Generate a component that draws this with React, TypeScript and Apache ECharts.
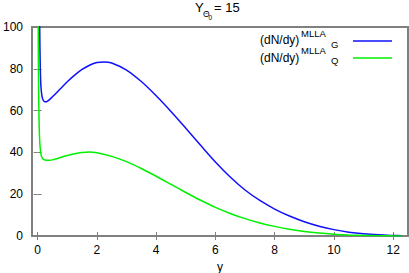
import React, { useEffect, useRef } from "react";
import * as echarts from "echarts";

const gluonX = [0.05, 0.07, 0.09, 0.11, 0.14, 0.18, 0.25, 0.35, 0.5, 0.75, 1.0, 1.25, 1.5, 1.75, 2.0, 2.25, 2.5, 3.0, 3.5, 4.0, 4.5, 5.0, 5.5, 6.0, 6.5, 7.0, 7.5, 8.0, 8.5, 9.0, 9.5, 10.0, 10.5, 11.0, 11.5, 12.0, 12.3];
const gluonY = [140, 100, 80, 72, 67.5, 65.2, 64.2, 64.7, 66.6, 70.2, 73.8, 77.0, 79.7, 81.7, 83.0, 83.3, 82.8, 79.4, 73.9, 67.1, 59.6, 51.6, 43.4, 35.4, 28.2, 22.0, 17.0, 12.9, 9.55, 6.85, 4.7, 3.05, 1.85, 1.05, 0.55, 0.25, 0.12];

const quarkX = [0.01, 0.02, 0.03, 0.05, 0.08, 0.12, 0.16, 0.2, 0.3, 0.4, 0.6, 0.8, 1.0, 1.25, 1.5, 1.75, 2.0, 2.5, 3.0, 3.5, 4.0, 4.5, 5.0, 5.5, 6.0, 6.5, 7.0, 7.5, 8.0, 8.5, 9.0, 9.5, 10.0, 10.5, 11.0, 11.5, 12.0, 12.3];
const quarkY = [150, 100, 75, 54, 43, 38.6, 37.3, 36.7, 36.25, 36.2, 36.8, 37.7, 38.5, 39.4, 40.0, 40.2, 39.8, 38.1, 35.6, 32.3, 28.6, 24.7, 20.8, 17.1, 13.7, 10.8, 8.3, 6.25, 4.6, 3.25, 2.15, 1.4, 0.88, 0.52, 0.29, 0.15, 0.06, 0.03];

const xTicks = [0, 2, 4, 6, 8, 10, 12];
const yTicks = [0, 20, 40, 60, 80, 100];
const xRange = [-0.19, 12.5];
const yRange = [0, 100];

const FONT = "Liberation Sans, Arial, Helvetica, sans-serif";
const AXIS_COLOR = "#808080";
const BLUE = "#1010ff";
const GREEN = "#00f000";

export default function App() {
  const ref = useRef<HTMLDivElement>(null);

  useEffect(() => {
    if (!ref.current) return;
    const chart = echarts.init(ref.current, undefined, { renderer: "svg" });

    const tickStyle = { show: true, inside: true, length: 4, lineStyle: { color: AXIS_COLOR, width: 1 } };

    const txt = (text: string, x: number, y: number, size: number) => ({
      type: "text",
      x,
      y,
      style: { text, fontSize: size, fontFamily: FONT, fill: "#000", verticalAlign: "middle", align: "left" },
    });

    chart.setOption({
      animation: false,
      grid: {
        left: 32,
        right: 1,
        top: 27,
        bottom: 37,
        containLabel: false,
        outerBoundsMode: "none",
        show: true,
        borderColor: AXIS_COLOR,
        borderWidth: 2,
        backgroundColor: "transparent",
      },
      xAxis: [
        {
          type: "value",
          min: xRange[0],
          max: xRange[1],
          name: "y",
          nameLocation: "middle",
          nameGap: 20,
          nameTextStyle: { fontSize: 12, fontFamily: FONT, color: "#000" },
          axisLine: { show: false },
          axisTick: { ...tickStyle, customValues: xTicks },
          axisLabel: { customValues: xTicks, fontSize: 12, fontFamily: FONT, color: "#000", margin: 8 },
          splitLine: { show: false },
        },
        {
          type: "value",
          position: "top",
          min: xRange[0],
          max: xRange[1],
          axisLine: { show: false },
          axisTick: { ...tickStyle, customValues: xTicks },
          axisLabel: { show: false, customValues: xTicks },
          splitLine: { show: false },
        },
      ],
      yAxis: [
        {
          type: "value",
          min: yRange[0],
          max: yRange[1],
          axisLine: { show: false },
          axisTick: { ...tickStyle, customValues: yTicks },
          axisLabel: { customValues: yTicks, fontSize: 12, fontFamily: FONT, color: "#000", margin: 9 },
          splitLine: { show: false },
        },
        {
          type: "value",
          position: "right",
          min: yRange[0],
          max: yRange[1],
          axisLine: { show: false },
          axisTick: { ...tickStyle, customValues: yTicks },
          axisLabel: { show: false, customValues: yTicks },
          splitLine: { show: false },
        },
      ],
      series: [
        {
          name: "gluon",
          type: "line",
          xAxisIndex: 0,
          yAxisIndex: 0,
          data: gluonX.map((x, i) => [x, gluonY[i]]),
          showSymbol: false,
          smooth: 0.3,
          clip: true,
          lineStyle: { color: BLUE, width: 1.5 },
        },
        {
          name: "quark",
          type: "line",
          xAxisIndex: 0,
          yAxisIndex: 0,
          data: quarkX.map((x, i) => [x, quarkY[i]]),
          showSymbol: false,
          smooth: 0.3,
          clip: true,
          lineStyle: { color: GREEN, width: 1.5 },
        },
      ],
      graphic: [
        txt("Y", 195, 7.5, 13),
        txt("Θ", 203, 14, 8.5),
        txt("0", 208.5, 17, 6.5),
        txt("= 15", 214, 7.5, 13),
        txt("(dN/dy)", 260, 40, 12),
        txt("MLLA", 301, 33, 9.5),
        txt("G", 331, 44, 9.5),
        { type: "line", shape: { x1: 353, y1: 41, x2: 392, y2: 41 }, style: { stroke: BLUE, lineWidth: 1.5 } },
        txt("(dN/dy)", 260, 57.5, 12),
        txt("MLLA", 301, 50.5, 9.5),
        txt("Q", 331, 60, 9.5),
        { type: "line", shape: { x1: 353, y1: 58, x2: 392, y2: 58 }, style: { stroke: GREEN, lineWidth: 1.5 } },
      ],
    });

    return () => chart.dispose();
  }, []);

  return (
    <div
      ref={ref}
      style={{ position: "fixed", left: 0, top: 0, width: 409, height: 273, background: "#fff" }}
    />
  );
}
